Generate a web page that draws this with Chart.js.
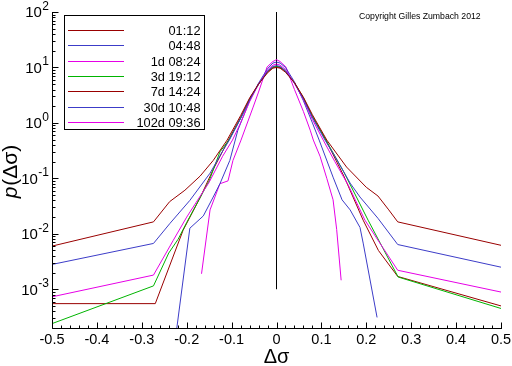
<!DOCTYPE html>
<html><head><meta charset="utf-8">
<script src="https://cdn.jsdelivr.net/npm/chart.js@4/dist/chart.umd.min.js"></script>
<style>html,body{margin:0;padding:0;background:#fff;overflow:hidden}#wrap{width:512px;height:366px;position:relative}</style>
</head><body><div id="wrap"><canvas id="c" width="512" height="366"></canvas></div>
<script>
// ---- data ----
const seriesLabels = ['01:12','04:48','1d 08:24','3d 19:12','7d 14:24','30d 10:48','102d 09:36'];

const x_0112 = [-0.5,-0.274,-0.238,-0.204,-0.17,-0.141,-0.11,-0.08,-0.059,-0.04,-0.02,-0.008,0,0.008,0.02,0.04,0.06,0.08,0.112,0.156,0.2,0.226,0.25,0.27,0.5];
const y_0112 = [6.0e-3,0.0164,0.038,0.061,0.11,0.21,0.49,1.35,2.9,5.0,8.0,9.7,10.0,9.7,8.2,5.3,2.9,1.4,0.49,0.16,0.069,0.048,0.027,0.0164,6.2e-3];

const x_0448 = [-0.5,-0.274,-0.237,-0.193,-0.148,-0.119,-0.105,-0.08,-0.06,-0.04,-0.02,-0.008,0,0.008,0.02,0.04,0.06,0.08,0.108,0.13,0.164,0.186,0.226,0.27,0.5];
const y_0448 = [2.8e-3,6.7e-3,0.0155,0.04,0.124,0.32,0.49,1.2,2.6,5.0,8.6,10.4,10.8,10.4,8.7,5.2,2.7,1.25,0.49,0.25,0.082,0.046,0.019,6.4e-3,2.5e-3];

const x_1d0824 = [-0.5,-0.274,-0.23,-0.2,-0.15,-0.12,-0.098,-0.08,-0.06,-0.04,-0.02,-0.008,0,0.008,0.02,0.04,0.06,0.08,0.104,0.13,0.16,0.197,0.237,0.27,0.5];
const y_1d0824 = [7.3e-4,1.8e-3,7.6e-3,0.02,0.085,0.25,0.49,1.0,2.4,5.0,9.0,11.0,11.5,11.0,9.2,5.2,2.6,1.15,0.49,0.2,0.075,0.0176,5.6e-3,2.2e-3,8.9e-4];

const x_3d1912 = [-0.5,-0.274,-0.24,-0.219,-0.2,-0.15,-0.126,-0.106,-0.08,-0.06,-0.04,-0.02,-0.008,0,0.008,0.02,0.04,0.06,0.08,0.11,0.15,0.204,0.237,0.271,0.5];
const y_3d1912 = [2.4e-4,1.15e-3,4.5e-3,8e-3,0.016,0.09,0.3,0.49,1.2,2.6,5.0,8.5,10.2,10.5,10.2,8.7,5.3,2.8,1.3,0.49,0.13,0.0176,5.5e-3,1.66e-3,4.5e-4];

const x_7d1424 = [-0.5,-0.27,-0.208,-0.17,-0.14,-0.107,-0.08,-0.06,-0.04,-0.02,-0.008,0,0.008,0.02,0.04,0.06,0.08,0.11,0.15,0.193,0.227,0.27,0.5];
const y_7d1424 = [5.5e-4,5.5e-4,0.0116,0.045,0.15,0.49,1.25,2.7,5.0,8.3,10.0,10.3,10.0,8.5,5.3,2.8,1.3,0.49,0.11,0.0176,5e-3,1.7e-3,5.0e-4];

const x_30d1048 = [-0.222,-0.193,-0.163,-0.141,-0.126,-0.104,-0.086,-0.06,-0.04,-0.02,-0.008,0,0.008,0.02,0.04,0.06,0.08,0.095,0.126,0.146,0.164,0.186,0.193,0.224];
const y_30d1048 = [2.0e-4,0.0126,0.021,0.046,0.08,0.21,0.74,2.5,5.2,9.5,12.0,12.5,12.0,10.0,5.5,2.5,1.0,0.49,0.105,0.041,0.027,0.013,6.8e-3,3.1e-4];

const x_102d0936 = [-0.167,-0.148,-0.126,-0.108,-0.097,-0.079,-0.052,-0.04,-0.021,-0.008,0,0.008,0.021,0.04,0.06,0.075,0.082,0.097,0.112,0.126,0.134,0.144];
const y_102d0936 = [1.9e-3,0.027,0.08,0.09,0.21,0.49,1.93,3.6,10.2,12.8,13.8,12.8,10.2,4.0,1.6,0.74,0.49,0.25,0.1,0.041,0.012,1.45e-3];

const zeroLineY = [1e-3, 100];

const xTickLabels = ['-0.5','-0.4','-0.3','-0.2','-0.1','0','0.1','0.2','0.3','0.4','0.5'];
const yTickExponents = ['-3','-2','-1','0','1','2'];
const copyrightText = 'Copyright Gilles Zumbach 2012';
const xTitle = '\u0394\u03C3';
const yTitleP = 'p';
const yTitleRest = '(\u0394\u03C3)';

// ---- styles ----
const seriesColors = ['#990000','#3c3cc8','#e600e6','#00b400','#990000','#3c3cc8','#e600e6'];
const SANS = '"Liberation Sans", Arial, sans-serif';

const seriesX = [x_0112,x_0448,x_1d0824,x_3d1912,x_7d1424,x_30d1048,x_102d0936];
const seriesY = [y_0112,y_0448,y_1d0824,y_3d1912,y_7d1424,y_30d1048,y_102d0936];

const datasets = seriesLabels.map((lab,i)=>({
  label: lab,
  data: seriesX[i].map((v,j)=>({x:v,y:seriesY[i][j]})),
  borderColor: seriesColors[i],
  borderWidth: 1,
  pointRadius: 0,
  tension: 0,
  fill: false
}));
datasets.push({
  label: '_zero',
  data: zeroLineY.map(v=>({x:0,y:v})),
  borderColor: '#000',
  borderWidth: 1,
  pointRadius: 0,
  fill: false
});

const decor = {
  id: 'decor',
  afterDatasetsDraw(chart){
    const {ctx, chartArea:a} = chart;
    const xs = chart.scales.x, ys = chart.scales.y;
    ctx.save();
    ctx.strokeStyle = '#000';
    ctx.lineWidth = 1;
    const L = Math.round(a.left)+0.5, B = Math.round(a.bottom)+0.5;
    ctx.beginPath();
    ctx.moveTo(L, a.top); ctx.lineTo(L, B); ctx.lineTo(a.right+1, B);
    ctx.stroke();
    // x ticks
    const xVals = xTickLabels.map(parseFloat);
    ctx.beginPath();
    for (let k=0;k<xVals.length;k++){
      const px = Math.round(xs.getPixelForValue(xVals[k]))+0.5;
      ctx.moveTo(px,B); ctx.lineTo(px,B-6);
      if (k<xVals.length-1){
        for (let m=1;m<5;m++){
          const v = xVals[k] + (xVals[k+1]-xVals[k])*m/5;
          const pm = Math.round(xs.getPixelForValue(v))+0.5;
          ctx.moveTo(pm,B); ctx.lineTo(pm,B-3);
        }
      }
    }
    ctx.stroke();
    // y ticks
    const yMin = ys.min, yMax = ys.max;
    ctx.beginPath();
    for (let e=-4;e<=2;e++){
      for (let m=1;m<10;m++){
        const v = m*Math.pow(10,e);
        if (v < yMin*0.999 || v > yMax*1.001) continue;
        const py = Math.round(ys.getPixelForValue(v))+0.5;
        ctx.moveTo(L,py); ctx.lineTo(L+(m===1?6:3),py);
      }
    }
    ctx.stroke();
    // x tick labels
    ctx.fillStyle = '#000';
    ctx.font = '14.5px ' + SANS;
    ctx.textAlign = 'center';
    ctx.textBaseline = 'alphabetic';
    xTickLabels.forEach((t)=>{
      const px = xs.getPixelForValue(parseFloat(t));
      ctx.fillText(t, px, a.bottom + 15.5);
    });
    // y tick labels
    yTickExponents.forEach((ex)=>{
      const ty = ys.getPixelForValue(Math.pow(10, parseInt(ex)));
      ctx.font = '12px ' + SANS;
      const ew = ctx.measureText(ex).width;
      const right = 49;
      ctx.textAlign = 'left';
      ctx.fillText(ex, right-ew, ty-2);
      ctx.font = '15px ' + SANS;
      ctx.textAlign = 'right';
      ctx.fillText('10', right-ew-0.5, ty+5.4);
    });
    // axis titles
    ctx.font = '20px ' + SANS;
    ctx.textAlign = 'center';
    ctx.fillText(xTitle, (a.left+a.right)/2, 363);
    ctx.save();
    ctx.translate(17, 172);
    ctx.rotate(-Math.PI/2);
    ctx.font = 'italic 21px ' + SANS;
    const pw = ctx.measureText(yTitleP).width;
    ctx.font = '21px ' + SANS;
    const rw = ctx.measureText(yTitleRest).width;
    const start = -(pw+rw)/2;
    ctx.textAlign = 'left';
    ctx.font = 'italic 21px ' + SANS;
    ctx.fillText(yTitleP, start, 0);
    ctx.font = '21px ' + SANS;
    ctx.fillText(yTitleRest, start+pw+1, 0);
    ctx.restore();
    // copyright
    ctx.font = '8.7px ' + SANS;
    ctx.textAlign = 'left';
    ctx.fillText(copyrightText, 359, 18.5);
    // legend box
    ctx.fillStyle = '#fff';
    ctx.fillRect(64.5, 15.5, 140, 114);
    ctx.strokeStyle = '#000';
    ctx.strokeRect(64.5, 15.5, 140, 114);
    const rowY = [29.5,45,60.5,75.5,91,106.5,121.5];
    seriesLabels.forEach((lab,i)=>{
      const y = Math.round(rowY[i])+0.5;
      ctx.strokeStyle = seriesColors[i];
      ctx.beginPath();
      ctx.moveTo(68, y); ctx.lineTo(124, y);
      ctx.stroke();
      ctx.fillStyle = '#000';
      ctx.font = '12.8px ' + SANS;
      ctx.textAlign = 'right';
      ctx.fillText(lab, 200.5, y+4.3);
    });
    ctx.restore();
  }
};

new Chart(document.getElementById('c'), {
  type: 'line',
  data: { datasets },
  options: {
    responsive: false,
    devicePixelRatio: 1,
    animation: false,
    layout: { padding: { left: 52, right: 11, top: 12, bottom: 38 } },
    plugins: { legend: { display: false }, tooltip: { enabled: false } },
    scales: {
      x: { type: 'linear', min: -0.5, max: 0.5, display: false },
      y: { type: 'logarithmic', min: 2e-4, max: 100, display: false }
    }
  },
  plugins: [decor]
});
</script>
</body></html>
